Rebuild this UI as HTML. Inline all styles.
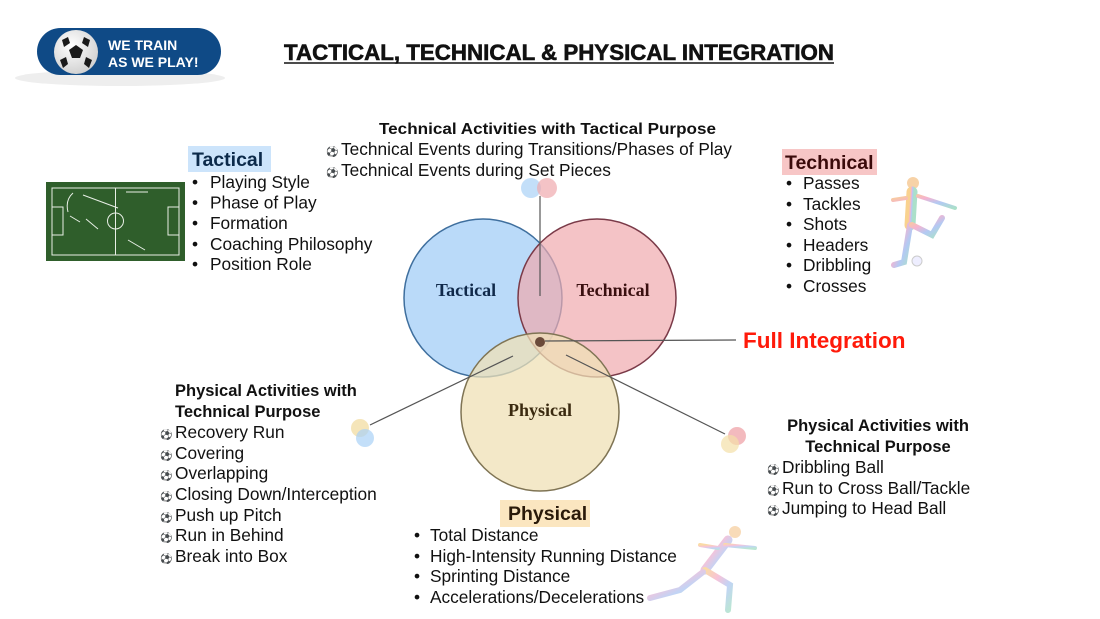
<!DOCTYPE html>
<html><head><meta charset="utf-8"><style>
html,body{margin:0;padding:0;background:#fff;}
svg{display:block;}
.s{font-family:"Liberation Sans",Arial,sans-serif;}
.sf{font-family:"Liberation Serif",serif;}
</style></head><body>
<svg width="1100" height="619" viewBox="0 0 1100 619" xmlns="http://www.w3.org/2000/svg" class="s" font-family="Liberation Sans, Arial, sans-serif">
<defs>
<radialGradient id="ball" cx="40%" cy="35%" r="70%"><stop offset="0" stop-color="#fff"/><stop offset="1" stop-color="#cfcfcf"/></radialGradient>
<linearGradient id="rain" x1="0" y1="0" x2="1" y2="1"><stop offset="0" stop-color="#f7c46a"/><stop offset=".35" stop-color="#f39bc0"/><stop offset=".65" stop-color="#9ab8f0"/><stop offset="1" stop-color="#8fd6b8"/></linearGradient>
</defs>
<!-- logo -->
<ellipse cx="120" cy="78" rx="105" ry="8" fill="#eee"/>
<rect x="37" y="28" width="184" height="47" rx="23.5" fill="#0f4a86"/>
<circle cx="76" cy="52" r="22" fill="url(#ball)"/>
<polygon points="76,45 83,50 80,58 72,58 69,50" fill="#1a1a1a"/>
<path d="M62,40 L68,37 L70,43 L64,47 Z M90,40 L84,37 L82,43 L88,47 Z M60,60 L66,57 L68,64 L63,68 Z M92,60 L86,57 L84,64 L89,68 Z" fill="#1a1a1a"/>
<text x="108" y="50" fill="#fff" font-size="14" font-weight="bold">WE TRAIN</text>
<text x="108" y="67" fill="#fff" font-size="14" font-weight="bold">AS WE PLAY!</text>
<!-- title -->
<text x="284" y="60" font-size="22" font-weight="bold" textLength="550" lengthAdjust="spacingAndGlyphs" fill="#111" stroke="#111" stroke-width=".6">TACTICAL, TECHNICAL &amp; PHYSICAL INTEGRATION</text>
<line x1="284" y1="63" x2="834" y2="63" stroke="#111" stroke-width="1.5"/>

<!-- pitch -->
<rect x="46" y="182" width="139" height="79" fill="#2f5e2b"/>
<g stroke="#e8efe6" stroke-width="1" fill="none">
<rect x="52" y="188" width="127" height="67"/>
<line x1="115.5" y1="188" x2="115.5" y2="255"/>
<circle cx="115.5" cy="221" r="8"/>
<rect x="52" y="207" width="11" height="28"/>
<rect x="168" y="207" width="11" height="28"/>
<path d="M73,193 Q65,200 68,212 M83,195 L118,208 M70,216 L80,222 M86,219 L98,229 M128,240 L145,250 M126,192 L148,192"/>
</g>
<!-- Tactical block -->
<rect x="188" y="146" width="83" height="26" fill="#cce4fb"/>
<text x="192" y="166" font-size="19.5" font-weight="bold" fill="#0c2a4a">Tactical</text>
<g font-size="17.3" fill="#111">
<text x="192" y="188">•</text><text x="210" y="188">Playing Style</text>
<text x="192" y="208.5">•</text><text x="210" y="208.5">Phase of Play</text>
<text x="192" y="229">•</text><text x="210" y="229">Formation</text>
<text x="192" y="250">•</text><text x="210" y="250">Coaching Philosophy</text>
<text x="192" y="270">•</text><text x="210" y="270">Position Role</text>
</g>
<!-- top text -->
<text x="379" y="134" font-size="16" font-weight="bold" textLength="337" lengthAdjust="spacingAndGlyphs" fill="#111">Technical Activities with Tactical Purpose</text>
<g font-size="17.3" fill="#111">
<text x="326" y="155" font-size="10">⚽</text><text x="341" y="155">Technical Events during Transitions/Phases of Play</text>
<text x="326" y="176" font-size="10">⚽</text><text x="341" y="176">Technical Events during Set Pieces</text>
</g>
<!-- Technical block -->
<rect x="782" y="149" width="95" height="26" fill="#f7c6c6"/>
<text x="785" y="169" font-size="19.5" font-weight="bold" fill="#3a0a0a">Technical</text>
<g font-size="17.3" fill="#111">
<text x="786" y="189">•</text><text x="803" y="189">Passes</text>
<text x="786" y="210">•</text><text x="803" y="210">Tackles</text>
<text x="786" y="230">•</text><text x="803" y="230">Shots</text>
<text x="786" y="251">•</text><text x="803" y="251">Headers</text>
<text x="786" y="271">•</text><text x="803" y="271">Dribbling</text>
<text x="786" y="292">•</text><text x="803" y="292">Crosses</text>
</g>
<!-- player figure -->
<g stroke="url(#rain)" stroke-linecap="round" fill="none" opacity=".75">
<circle cx="913" cy="183" r="6" fill="#f5c48a" stroke="none"/>
<path d="M912,192 L910,225" stroke-width="11"/>
<path d="M906,198 L893,200 M918,196 L955,208" stroke-width="4"/>
<path d="M910,225 L904,262 L894,265" stroke-width="6"/>
<path d="M912,225 L932,235 L942,218" stroke-width="6"/>
</g>
<circle cx="917" cy="261" r="5" fill="#eef" stroke="#ccc"/>

<!-- venn -->
<g stroke-width="1.5">
<circle cx="483" cy="298" r="79" fill="#a9d1f7" fill-opacity=".8" stroke="#3f6f9e"/>
<circle cx="597" cy="298" r="79" fill="#f0a9ae" fill-opacity=".7" stroke="#7a3a48"/>
<circle cx="540" cy="412" r="79" fill="#efe0b5" fill-opacity=".75" stroke="#7f7454"/>
</g>
<g class="sf" font-family="Liberation Serif, serif" font-size="18" font-weight="bold" text-anchor="middle">
<text x="466" y="296" fill="#10294a">Tactical</text>
<text x="613" y="296" fill="#3a1010">Technical</text>
<text x="540" y="416" fill="#3a2a10">Physical</text>
</g>
<circle cx="540" cy="342" r="5" fill="#6b4a3a"/>
<g stroke="#555" stroke-width="1.2">
<line x1="540" y1="196" x2="540" y2="296"/>
<line x1="545" y1="341" x2="736" y2="340"/>
<line x1="513" y1="356" x2="370" y2="425"/>
<line x1="566" y1="355" x2="725" y2="434"/>
</g>
<circle cx="531" cy="188" r="10" fill="#a9d1f7" opacity=".7"/>
<circle cx="547" cy="188" r="10" fill="#f0a9ae" opacity=".7"/>
<circle cx="360" cy="428" r="9" fill="#f3dfa8" opacity=".8"/>
<circle cx="365" cy="438" r="9" fill="#a9d1f7" opacity=".7"/>
<circle cx="737" cy="436" r="9" fill="#f0a9ae" opacity=".8"/>
<circle cx="730" cy="444" r="9" fill="#f3dfa8" opacity=".7"/>

<text x="743" y="348" font-size="22.5" font-weight="bold" fill="#ff1a0a">Full Integration</text>

<!-- right physical -->
<g font-size="16.5" font-weight="bold" fill="#111" text-anchor="middle">
<text x="878" y="431">Physical Activities with</text>
<text x="878" y="452">Technical Purpose</text>
</g>
<g font-size="17.3" fill="#111">
<text x="767" y="473" font-size="10">⚽</text><text x="782" y="473">Dribbling Ball</text>
<text x="767" y="494" font-size="10">⚽</text><text x="782" y="494">Run to Cross Ball/Tackle</text>
<text x="767" y="514" font-size="10">⚽</text><text x="782" y="514">Jumping to Head Ball</text>
</g>
<!-- left physical -->
<g font-size="16.5" font-weight="bold" fill="#111">
<text x="175" y="396">Physical Activities with</text>
<text x="175" y="417">Technical Purpose</text>
</g>
<g font-size="17.3" fill="#111">
<text x="160" y="438" font-size="10">⚽</text><text x="175" y="438">Recovery Run</text>
<text x="160" y="459" font-size="10">⚽</text><text x="175" y="459">Covering</text>
<text x="160" y="479" font-size="10">⚽</text><text x="175" y="479">Overlapping</text>
<text x="160" y="500" font-size="10">⚽</text><text x="175" y="500">Closing Down/Interception</text>
<text x="160" y="521" font-size="10">⚽</text><text x="175" y="521">Push up Pitch</text>
<text x="160" y="541" font-size="10">⚽</text><text x="175" y="541">Run in Behind</text>
<text x="160" y="562" font-size="10">⚽</text><text x="175" y="562">Break into Box</text>
</g>
<!-- Physical block -->
<rect x="500" y="500" width="90" height="27" fill="#fbe6c0"/>
<text x="508" y="520" font-size="19.5" font-weight="bold" fill="#2a1a0a">Physical</text>
<g font-size="17.3" fill="#111">
<text x="414" y="541">•</text><text x="430" y="541">Total Distance</text>
<text x="414" y="562">•</text><text x="430" y="562">High-Intensity Running Distance</text>
<text x="414" y="582">•</text><text x="430" y="582">Sprinting Distance</text>
<text x="414" y="603">•</text><text x="430" y="603">Accelerations/Decelerations</text>
</g>
<!-- runner -->
<g stroke="url(#rain)" stroke-linecap="round" fill="none" opacity=".6">
<circle cx="735" cy="532" r="6" fill="#f5c48a" stroke="none"/>
<path d="M728,540 L705,570" stroke-width="9"/>
<path d="M725,545 L755,548 M718,548 L700,545" stroke-width="4"/>
<path d="M705,570 L730,585 L728,610" stroke-width="6"/>
<path d="M703,572 L680,590 L650,598" stroke-width="6"/>
</g>
</svg>
</body></html>
